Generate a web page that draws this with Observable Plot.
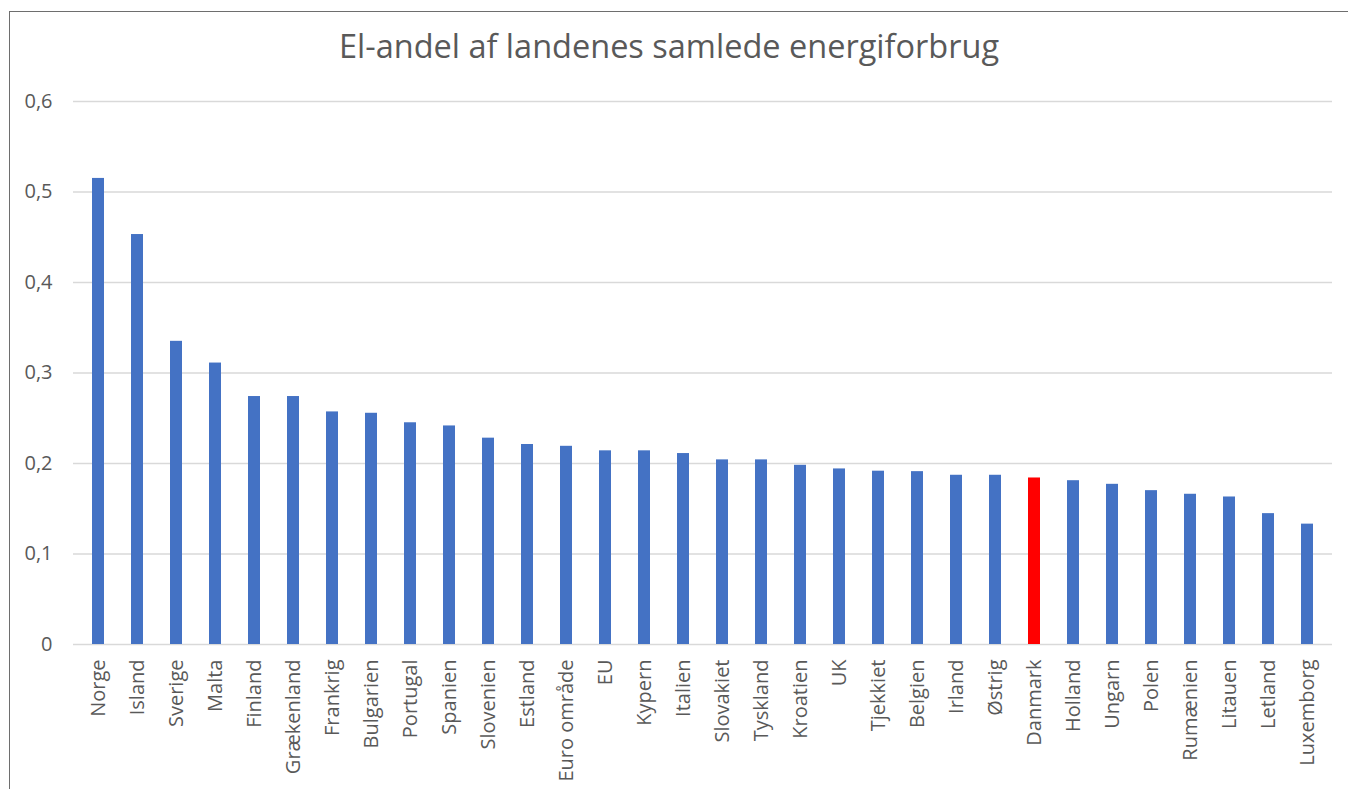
<!DOCTYPE html>
<html>
<head>
<meta charset="utf-8">
<script src="https://cdn.jsdelivr.net/npm/d3@7"></script>
<script src="https://cdn.jsdelivr.net/npm/@observablehq/plot@0.6"></script>
<style>
  html, body { margin: 0; padding: 0; background: #fff; overflow: hidden; }
  #wrap { position: relative; width: 1348px; height: 789px; }
  #frame { position: absolute; left: 9px; top: 11px; width: 1400px; height: 900px;
           border: 1px solid #6e6e6e; box-sizing: border-box; pointer-events: none; }
  #title { height: 80px; width: 1348px; box-sizing: border-box;
           font-family: "Open Sans", Lato, sans-serif; font-size: 32.5px; color: #595959;
           text-align: center; padding-top: 16px; line-height: 60px; }
  #title span { display: inline-block; transform: translateX(-5px); line-height: 1.0; }
</style>
</head>
<body>
<div id="wrap">
  <div id="title"><span>El-andel af landenes samlede energiforbrug</span></div>
  <div id="chart"></div>
  <div id="frame"></div>
</div>
<script>
const countries = ["Norge","Island","Sverige","Malta","Finland","Grækenland","Frankrig","Bulgarien","Portugal","Spanien","Slovenien","Estland","Euro område","EU","Kypern","Italien","Slovakiet","Tyskland","Kroatien","UK","Tjekkiet","Belgien","Irland","Østrig","Danmark","Holland","Ungarn","Polen","Rumænien","Litauen","Letland","Luxemborg"];
const shares = [0.515,0.453,0.335,0.311,0.274,0.274,0.257,0.2555,0.245,0.2415,0.228,0.221,0.219,0.214,0.214,0.211,0.204,0.204,0.198,0.194,0.1915,0.191,0.187,0.187,0.184,0.181,0.177,0.170,0.166,0.163,0.1446,0.133];
const yTicks = [0,0.1,0.2,0.3,0.4,0.5,0.6];
const highlight = "Danmark";
const barColor = "#4472C4";
const highlightColor = "#FF0000";

const data = countries.map((c, i) => ({country: c, share: shares[i]}));
const fmt = d => d === 0 ? "0" : d3.format(".1f")(d).replace(".", ",");

const chart = Plot.plot({
  width: 1348,
  height: 709,
  marginTop: 21,
  marginBottom: 145,
  marginLeft: 73,
  marginRight: 16,
  style: {fontFamily: "'Open Sans', Lato, sans-serif", fontSize: "20px", color: "#595959", background: "transparent"},
  x: {domain: countries, paddingInner: 0.69, paddingOuter: 0.345, align: 0.5, label: null},
  y: {domain: [0, 0.6], label: null},
  marks: [
    Plot.ruleY(yTicks, {stroke: "#d9d9d9", strokeWidth: 1.5}),
    Plot.barY(data, {x: "country", y: "share",
      fill: d => d.country === highlight ? highlightColor : barColor}),
    Plot.axisX({tickSize: 0, tickPadding: 15, tickRotate: -90, fontSize: 20, fill: "#595959", label: null}),
    Plot.axisY({ticks: yTicks, tickSize: 0, tickPadding: 21, fontSize: 20, fill: "#595959", tickFormat: fmt, label: null})
  ]
});
document.getElementById("chart").appendChild(chart);
</script>
</body>
</html>
